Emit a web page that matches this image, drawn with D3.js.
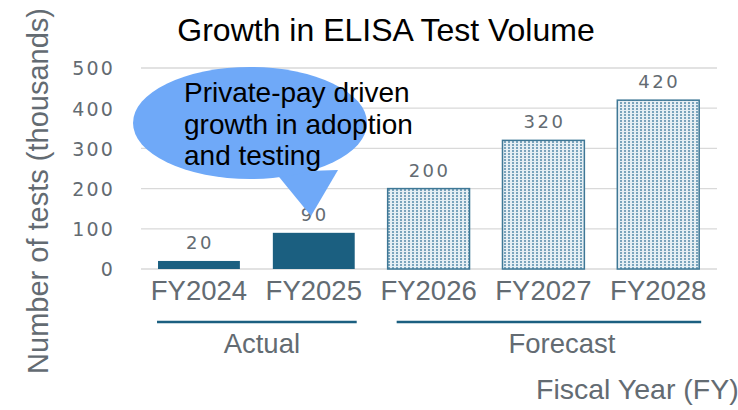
<!DOCTYPE html>
<html>
<head>
<meta charset="utf-8">
<script src="https://cdn.jsdelivr.net/npm/d3@7"></script>
<style>
  body { margin: 0; background: #fff; }
  svg { display: block; }
</style>
</head>
<body>
<div id="chart"></div>
<script>
// Datos
const years = ['FY2024', 'FY2025', 'FY2026', 'FY2027', 'FY2028'];
const tests = [20, 90, 200, 320, 420];
const isForecast = [false, false, true, true, true];
const yTicks = [0, 100, 200, 300, 400, 500];
const groups = [
  { label: 'Actual', from: 'FY2024', to: 'FY2025' },
  { label: 'Forecast', from: 'FY2026', to: 'FY2028' }
];
const calloutLines = ['Private-pay driven', 'growth in adoption', 'and testing'];

const width = 738, height = 410;
const svg = d3.select('#chart').append('svg')
  .attr('width', width)
  .attr('height', height);

// Patrón punteado para las barras de pronóstico
const defs = svg.append('defs');
const pat = defs.append('pattern')
  .attr('id', 'dots')
  .attr('patternUnits', 'userSpaceOnUse')
  .attr('width', 4).attr('height', 3);
pat.append('rect').attr('width', 4).attr('height', 3).attr('fill', '#e6eff4');
pat.append('rect').attr('width', 2).attr('height', 2).attr('fill', '#7aa4bc');

// Escalas
const x = d3.scaleBand()
  .domain(years)
  .range([141.6, 715.6])
  .paddingInner(0.287)
  .paddingOuter(0.143);
const y = d3.scaleLinear()
  .domain([0, 500])
  .range([269, 68]);

const textGray = '#636b72';
const barBlue = '#1b5f80';
const sans = '"Liberation Sans", Arial, sans-serif';
const verd = '"DejaVu Sans", Verdana, sans-serif';

// Líneas de cuadrícula
svg.append('g')
  .selectAll('line')
  .data(yTicks)
  .enter().append('line')
  .attr('x1', 141).attr('x2', 717)
  .attr('y1', d => y(d)).attr('y2', d => y(d))
  .style('stroke', '#d9d9d9')
  .style('stroke-width', 1.3);

// Eje Y
const yAxis = svg.append('g')
  .attr('transform', 'translate(115,0)')
  .call(d3.axisLeft(y).tickValues(yTicks).tickSize(0).tickPadding(0));
yAxis.select('.domain').remove();
yAxis.selectAll('text')
  .attr('dy', '0.36em')
  .style('font-family', verd)
  .style('font-size', '19px')
  .style('letter-spacing', '2.2px')
  .style('fill', textGray);

// Barras
svg.append('g')
  .selectAll('rect')
  .data(years)
  .enter().append('rect')
  .attr('x', d => x(d))
  .attr('width', x.bandwidth())
  .attr('y', (d, i) => y(tests[i]))
  .attr('height', (d, i) => y(0) - y(tests[i]))
  .attr('fill', (d, i) => isForecast[i] ? 'url(#dots)' : barBlue)
  .attr('stroke', (d, i) => isForecast[i] ? '#3f7896' : 'none')
  .attr('stroke-width', 1.5);

// Etiquetas de valor
svg.append('g')
  .selectAll('text')
  .data(years)
  .enter().append('text')
  .attr('x', d => x(d) + x.bandwidth() / 2 + 1)
  .attr('y', (d, i) => y(tests[i]) - 12)
  .attr('text-anchor', 'middle')
  .text((d, i) => tests[i])
  .style('font-family', verd)
  .style('font-size', '18px')
  .style('letter-spacing', '2.5px')
  .style('fill', textGray);

// Etiquetas del eje X
svg.append('g')
  .selectAll('text')
  .data(years)
  .enter().append('text')
  .attr('x', d => x(d) + x.bandwidth() / 2)
  .attr('y', 300)
  .attr('text-anchor', 'middle')
  .text(d => d)
  .style('font-family', sans)
  .style('font-size', '27.5px')
  .style('fill', textGray);

// Grupos Actual / Forecast
const gx1 = (d, i) => x(d.from) + (i ? 9 : -1);
const gx2 = d => x(d.to) + x.bandwidth() + 2;
const grp = svg.append('g')
  .selectAll('g')
  .data(groups)
  .enter().append('g');
grp.append('line')
  .attr('x1', gx1)
  .attr('x2', gx2)
  .attr('y1', 322).attr('y2', 322)
  .style('stroke', barBlue)
  .style('stroke-width', 2.5);
grp.append('text')
  .attr('x', (d, i) => (gx1(d, i) + gx2(d)) / 2 + (i ? 13 : 5))
  .attr('y', 353)
  .attr('text-anchor', 'middle')
  .text(d => d.label)
  .style('font-family', sans)
  .style('font-size', '27.5px')
  .style('fill', textGray);

// Títulos de ejes
svg.append('text')
  .attr('transform', 'translate(48,191) rotate(-90)')
  .attr('text-anchor', 'middle')
  .text('Number of tests (thousands)')
  .style('font-family', sans)
  .style('font-size', '29px')
  .style('fill', textGray);

svg.append('text')
  .attr('x', 536)
  .attr('y', 399)
  .text('Fiscal Year (FY)')
  .style('font-family', sans)
  .style('font-size', '28.5px')
  .style('fill', textGray);

// Título
svg.append('text')
  .attr('x', 386)
  .attr('y', 41)
  .attr('text-anchor', 'middle')
  .text('Growth in ELISA Test Volume')
  .style('font-family', sans)
  .style('font-size', '32px')
  .style('fill', '#000');

// Globo de comentario
const callout = svg.append('g');
const calloutBlue = '#6fa9f8';
callout.append('path')
  .attr('d', 'M275,172 L311,216 L338,170 Z')
  .attr('fill', calloutBlue);
callout.append('ellipse')
  .attr('cx', 250).attr('cy', 123)
  .attr('rx', 117).attr('ry', 56)
  .attr('fill', calloutBlue);
callout.append('text')
  .selectAll('tspan')
  .data(calloutLines)
  .enter().append('tspan')
  .attr('x', 184)
  .attr('y', (d, i) => 102 + i * 31.5)
  .text(d => d)
  .style('font-family', sans)
  .style('font-size', '28px')
  .style('fill', '#000');
</script>
</body>
</html>
